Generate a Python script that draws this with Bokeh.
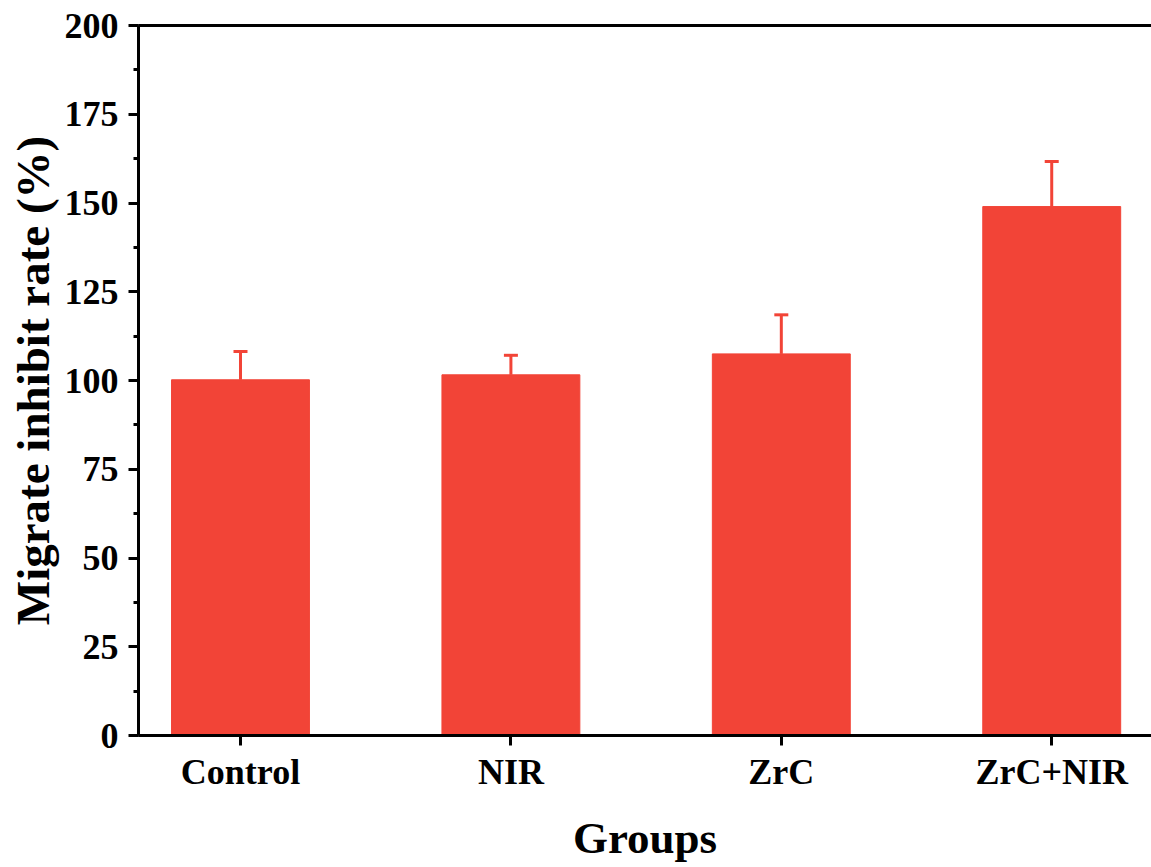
from bokeh.plotting import figure
from bokeh.models import (ColumnDataSource, Range1d, FixedTicker, SingleIntervalTicker,
                          LinearAxis, Whisker, TeeHead)
from bokeh.embed import file_html
from bokeh.resources import INLINE

# ---- data ----
groups = ["Control", "NIR", "ZrC", "ZrC+NIR"]
rates = [100.2, 101.6, 107.5, 149.0]
errors = [8.0, 5.5, 11.0, 12.7]
y_ticks = [0, 25, 50, 75, 100, 125, 150, 175, 200]

FONT = "Liberation Serif"
RED = "#F24437"

positions = [i + 1 for i in range(len(groups))]
upper = [r + e for r, e in zip(rates, errors)]
src = ColumnDataSource(dict(x=positions, top=rates, upper=upper, name=groups))

p = figure(width=1151, height=867, output_backend="svg", toolbar_location=None,
           x_range=Range1d(0.6228, 4.369), y_range=Range1d(0, 200),
           min_border_left=138, min_border_right=0, min_border_top=25,
           min_border_bottom=132)
p.background_fill_color = "white"
p.border_fill_color = "white"
p.outline_line_color = None
p.xgrid.visible = False
p.ygrid.visible = False

p.vbar(x="x", top="top", width=0.51, bottom=0, source=src,
       fill_color=RED, line_color=RED, line_width=1)

wh = Whisker(base="x", lower="top", upper="upper", source=src,
             line_color=RED, line_width=3,
             upper_head=TeeHead(size=14, line_color=RED, line_width=3),
             lower_head=None, level="underlay")
p.add_layout(wh)

# x axis
xa = p.xaxis[0]
xa.ticker = FixedTicker(ticks=positions)
xa.major_label_overrides = {pos: g for pos, g in zip(positions, groups)}
xa.axis_label = "Groups"
xa.minor_tick_line_color = None

ya = p.yaxis[0]
ya.ticker = SingleIntervalTicker(interval=25, num_minor_ticks=2)
ya.axis_label = "Migrate inhibit rate (%)"

for ax in (xa, ya):
    ax.axis_line_width = 3
    ax.axis_line_color = "black"
    ax.major_tick_line_width = 3
    ax.major_tick_line_color = "black"
    ax.major_tick_out = 10
    ax.major_tick_in = 0
    ax.minor_tick_line_width = 3
    ax.minor_tick_out = 5
    ax.minor_tick_in = 0
    ax.major_label_text_font = FONT
    ax.major_label_text_font_style = "bold"
    ax.major_label_text_font_size = "36px"
    ax.major_label_text_color = "black"
    ax.axis_label_text_font = FONT
    ax.axis_label_text_font_style = "bold"
    ax.axis_label_text_color = "black"

xa.axis_label_text_font_size = "45px"
ya.axis_label_text_font_size = "47px"
xa.major_label_standoff = 6
xa.axis_label_standoff = 18
ya.major_label_standoff = 10
ya.axis_label_standoff = 3

# top frame line
top_ax = LinearAxis(axis_line_width=3, axis_line_color="black",
                    ticker=FixedTicker(ticks=[]),
                    major_tick_line_color=None, minor_tick_line_color=None)
p.add_layout(top_ax, "above")

open("out.html", "w").write(file_html(p, INLINE))
